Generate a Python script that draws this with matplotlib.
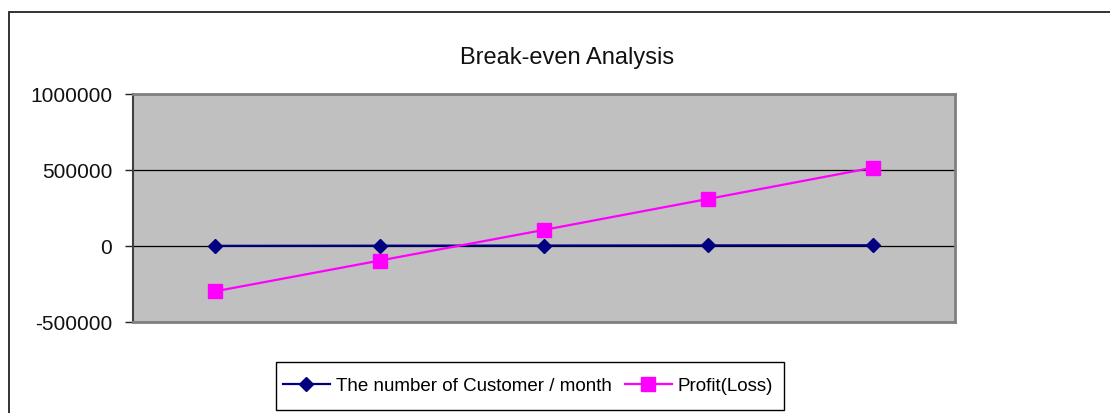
import matplotlib
matplotlib.use("Agg")
import matplotlib.pyplot as plt
from matplotlib.patches import Rectangle

categories = ["1", "2", "3", "4", "5"]
customers = [1000, 2000, 3000, 4000, 5000]
profit = [-298000, -96000, 106000, 310000, 515000]
yticks = [-500000, 0, 500000, 1000000]
title = "Break-even Analysis"
labels = ["The number of Customer / month", "Profit(Loss)"]

plt.rcParams['font.family'] = ['Liberation Sans', 'DejaVu Sans']

W, H = 1110, 413
fig = plt.figure(figsize=(W / 100, H / 100), dpi=100)
fig.patch.set_facecolor('white')

# outer chart border (extends past right/bottom edges)
fig.add_artist(Rectangle((9 / W, -0.1), 1.2, 1 - 12 / H + 0.1, transform=fig.transFigure,
                         fill=False, edgecolor='#222222', linewidth=1.3))

ax = fig.add_axes([133 / W, 1 - 322 / H, (955 - 133) / W, (322 - 94) / H])
ax.set_facecolor('#c0c0c0')
x = list(range(len(categories)))
ax.plot(x, customers, color='#000080', linewidth=1.6, marker='D', markersize=7,
        markerfacecolor='#000080', markeredgecolor='#000080', zorder=3, label=labels[0])
ax.plot(x, profit, color='#ff00ff', linewidth=1.6, marker='s', markersize=10,
        markerfacecolor='#ff00ff', markeredgecolor='#ff00ff', zorder=4, label=labels[1])

ax.set_xlim(-0.5, len(categories) - 0.5)
ax.set_ylim(-500000, 1000000)
ax.set_yticks(yticks)
ax.set_yticklabels([str(v) for v in yticks], fontsize=15, color='#111111')
ax.set_xticks([])
ax.tick_params(axis='y', length=6, width=1, color='#222222', pad=9)
ax.yaxis.grid(True, color='black', linewidth=0.9)
ax.set_axisbelow(True)
for s in ['top', 'right', 'bottom']:
    ax.spines[s].set_color('#808080')
    ax.spines[s].set_linewidth(2)
ax.spines['left'].set_color('#404040')
ax.spines['left'].set_linewidth(1.5)

fig.text(567 / W, 1 - 58 / H, title, ha='center', va='center', fontsize=17, color='#111111')

# legend frame drawn separately
fig.add_artist(Rectangle((276 / W, 1 - 410 / H), (784 - 276) / W, 48 / H,
                         transform=fig.transFigure, fill=True, facecolor='white',
                         edgecolor='black', linewidth=1.0, zorder=5))
leg = fig.legend(loc='center', bbox_to_anchor=(528 / W, 1 - 386 / H), ncol=2,
                 fontsize=13.5, frameon=False, handlelength=2.5,
                 handletextpad=0.32, columnspacing=0.7, borderpad=0.3)
leg.set_zorder(6)

fig.savefig('out.png', dpi=100, facecolor='white')
